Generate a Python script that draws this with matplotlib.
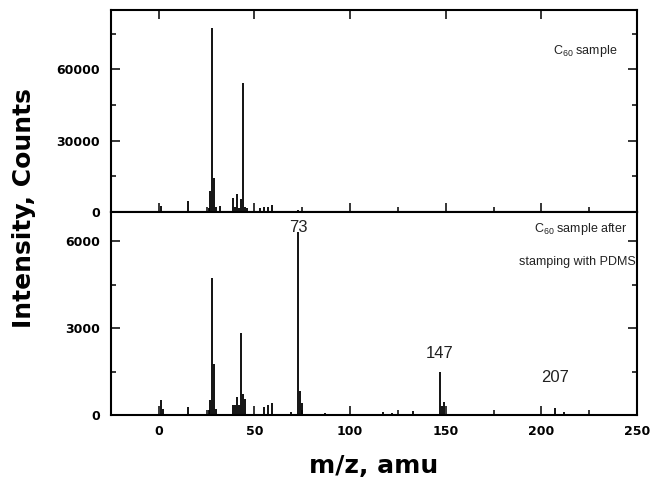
import matplotlib
matplotlib.use('Agg')
import matplotlib.pyplot as plt
from matplotlib import font_manager
from matplotlib.ticker import MultipleLocator

# top spectrum: C60 sample
top_mz = [1, 15, 26, 27, 28, 29, 30, 32, 39, 40, 41, 42, 43, 44, 45, 46,
          53, 55, 57, 59, 69, 73]
top_counts = [2500, 4500, 1500, 8900, 77600, 14300, 2000, 2500, 5800, 2000,
              7500, 1500, 5500, 54400, 2200, 1500, 1700, 2200, 2200, 3000,
              500, 800]

# bottom spectrum: C60 sample after stamping with PDMS
bot_mz = [1, 2, 15, 26, 27, 28, 29, 30, 39, 40, 41, 42, 43, 44, 45, 55, 57,
          59, 69, 73, 74, 75, 87, 117, 122, 133, 147, 148, 149, 207, 212]
bot_counts = [520, 200, 290, 170, 520, 4740, 1770, 200, 350, 350, 630, 350,
              2830, 720, 550, 290, 330, 430, 100, 6300, 840, 400, 80, 120, 80,
              150, 1500, 300, 460, 250, 100]

peak_labels = ['73', '147', '207']
x_ticks = [0, 50, 100, 150, 200, 250]
top_yticks = [0, 30000, 60000]
bot_yticks = [0, 3000, 6000]

plt.rcParams['font.family'] = ['DejaVu Sans']
plt.rcParams['mathtext.default'] = 'regular'

# narrow face for the captions if we have it
names = set(f.name for f in font_manager.fontManager.ttflist)
if 'Liberation Sans Narrow' in names:
    cap_family, cap_size = 'Liberation Sans Narrow', 10.8
else:
    cap_family, cap_size = 'Liberation Sans', 9.0

fig = plt.figure(figsize=(6.53, 4.86), dpi=100)
W, H = 653.0, 486.0
ax_top = fig.add_axes([111 / W, 274 / H, 526 / W, 202 / H])
ax_bot = fig.add_axes([111 / W, 71 / H, 526 / W, 203 / H])

ax_top.vlines(top_mz, 0, top_counts, color='black', lw=1.3)
ax_bot.vlines(bot_mz, 0, bot_counts, color='black', lw=1.3)

for ax in (ax_top, ax_bot):
    ax.set_xlim(-25, 250)
    ax.set_xticks(x_ticks)
    ax.xaxis.set_minor_locator(MultipleLocator(25))
    for side in ax.spines.values():
        side.set_linewidth(1.5)
    ax.tick_params(which='both', direction='in', width=1.1, right=True)
    ax.tick_params(which='major', length=6.5)
    ax.tick_params(which='minor', length=3.6)
    ax.tick_params(axis='y', pad=8)
    ax.tick_params(axis='x', pad=7)

ax_top.tick_params(top=True, labelbottom=False)
ax_top.set_ylim(0, 85000)
ax_top.set_yticks(top_yticks)
ax_top.yaxis.set_minor_locator(MultipleLocator(15000))

ax_bot.set_ylim(0, 7000)
ax_bot.set_yticks(bot_yticks)
ax_bot.yaxis.set_minor_locator(MultipleLocator(1500))

for ax in (ax_top, ax_bot):
    for lab in ax.get_xticklabels() + ax.get_yticklabels():
        lab.set_fontweight('bold')
        lab.set_fontsize(9)

# sample captions
cap = dict(family=[cap_family, 'DejaVu Sans'], fontsize=cap_size, color='#222222')
ax_top.text(206, 67600, r'C$_{60}$ sample', ha='left', va='center', **cap)
ax_bot.text(196, 6400, r'C$_{60}$ sample after', ha='left', va='center', **cap)
ax_bot.text(249.6, 5290, 'stamping with PDMS', ha='right', va='center', **cap)

# peak labels
ann = dict(family=['Liberation Sans', 'DejaVu Sans'], fontsize=12, color='#222222')
ax_bot.text(73, 6470, peak_labels[0], ha='center', va='center', **ann)
ax_bot.text(147, 2110, peak_labels[1], ha='center', va='center', **ann)
ax_bot.text(207, 1310, peak_labels[2], ha='center', va='center', **ann)

ax_bot.set_xlabel('m/z, amu', fontsize=18, fontweight='bold', labelpad=12)
fig.text(24 / W, 1 - 208 / H, 'Intensity, Counts', rotation=90,
         ha='center', va='center', fontsize=18, fontweight='bold')

fig.savefig('out.png', dpi=100)
